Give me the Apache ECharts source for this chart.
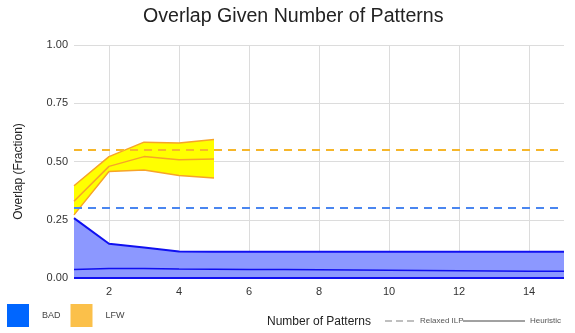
<!DOCTYPE html>
<html>
<head>
<meta charset="utf-8">
<script src="https://cdn.jsdelivr.net/npm/echarts@6/dist/echarts.min.js"></script>
<style>html,body{margin:0;padding:0;background:#fff}#c{width:575px;height:333px}</style>
</head>
<body>
<div id="c"></div>
<script>
var categories = ['1','2','3','4','5','6','7','8','9','10','11','12','13','14','15'];
var badUpper = [0.257,0.147,0.131,0.114,0.113,0.113,0.113,0.113,0.113,0.113,0.113,0.113,0.113,0.113,0.113];
var badLower = [0,0,0,0,0,0,0,0,0,0,0,0,0,0,0];
var badHeuristic = [0.036,0.041,0.041,0.039,0.038,0.037,0.036,0.035,0.034,0.033,0.032,0.031,0.030,0.029,0.029];
var lfwUpper = [0.396,0.521,0.583,0.579,0.594];
var lfwLower = [0.271,0.457,0.464,0.440,0.429];
var lfwHeuristic = [0.329,0.479,0.521,0.507,0.511];
var badRelaxedILP = 0.30;
var lfwRelaxedILP = 0.55;
var yTicks = [0, 0.25, 0.5, 0.75, 1.0];
var lineLegendNames = ['Relaxed ILP', 'Heuristic'];

var blueLine = '#1010f0', blueFill = '#8c98ff';
var orangeLine = '#f7a428', yellowFill = '#ffff00';
var lfwDiff = lfwUpper.map(function(v,i){ return +(v - lfwLower[i]).toFixed(4); });
var FONT = 'Liberation Sans, Arial, sans-serif';

var chart = echarts.init(document.getElementById('c'), null, {renderer:'canvas'});
chart.setOption({
  animation: false,
  title: {
    text: 'Overlap Given Number of Patterns',
    left: 138, top: 2,
    textStyle: {fontFamily: FONT, fontSize: 19.6, fontWeight: 'normal', color: '#222'}
  },
  grid: {left: 74, right: 11, top: 45, bottom: 53},
  legend: {
    data: [{name:'BAD', icon:'rect'}, {name:'LFW', icon:'rect'}],
    left: 7, top: 304, padding: 0, itemWidth: 22, itemHeight: 23, itemGap: 10,
    textStyle: {fontFamily: FONT, fontSize: 9, color:'#444', padding:[0,0,0,8]},
    selectedMode: false
  },
  graphic: [
    {type:'line', shape:{x1:385, y1:321, x2:415, y2:321}, style:{stroke:'#aaaaaa', lineWidth:1.5, lineDash:[7,4]}, silent:true},
    {type:'text', left:420, top:317, style:{text: lineLegendNames[0], font:'8px ' + FONT, fill:'#555'}, silent:true},
    {type:'line', shape:{x1:463, y1:321, x2:525, y2:321}, style:{stroke:'#444444', lineWidth:1}, silent:true},
    {type:'text', left:530, top:317, style:{text: lineLegendNames[1], font:'8px ' + FONT, fill:'#555'}, silent:true}
  ],
  xAxis: {
    type: 'category', data: categories, boundaryGap: false,
    name: 'Number of Patterns', nameLocation: 'middle', nameGap: 38,
    nameTextStyle: {fontFamily: FONT, fontSize: 12, color:'#222'},
    axisLine: {show: false}, axisTick: {show: false},
    axisLabel: {interval: function(i){ return i % 2 === 1; }, fontFamily: FONT, fontSize: 11, color:'#333', margin: 8},
    splitLine: {show: true, interval: function(i){ return i % 2 === 1; }, lineStyle: {color:'#dcdcdc', width:1}}
  },
  yAxis: {
    type: 'value', min: yTicks[0], max: yTicks[yTicks.length-1], interval: 0.25,
    name: 'Overlap (Fraction)', nameLocation: 'middle', nameGap: 49,
    nameTextStyle: {fontFamily: FONT, fontSize: 12, color:'#222', padding:[0,20,0,0]},
    axisLine: {show:false}, axisTick: {show:false},
    axisLabel: {formatter: function(v){ return v.toFixed(2); }, fontFamily: FONT, fontSize: 11, color:'#333', margin: 6},
    splitLine: {lineStyle: {color:'#dcdcdc', width:1}}
  },
  series: [
    {
      name: 'BAD', type: 'line', data: badUpper, symbol: 'none',
      lineStyle: {color: blueLine, width: 2}, itemStyle: {color: '#0066ff'},
      areaStyle: {color: blueFill, opacity: 1, origin: 'start'}, z: 2,
      markLine: {
        silent: true, symbol: 'none', label: {show:false},
        lineStyle: {color: '#4a86f0', type: [8,6], width: 2},
        data: [{yAxis: badRelaxedILP}]
      }
    },
    {
      name: 'BAD lower', type: 'line', data: badLower, symbol: 'none',
      lineStyle: {color: blueLine, width: 2}, z: 3
    },
    {
      name: 'BAD heuristic', type: 'line', data: badHeuristic, symbol: 'none',
      lineStyle: {color: blueLine, width: 1.5}, z: 3
    },
    {
      name: 'LFW lower', type: 'line', stack: 'lfw', data: lfwLower, symbol: 'none',
      lineStyle: {color: orangeLine, width: 1.5}, z: 4
    },
    {
      name: 'LFW', type: 'line', stack: 'lfw', data: lfwDiff, symbol: 'none',
      lineStyle: {color: orangeLine, width: 1.5}, itemStyle: {color: '#fbc04a'},
      areaStyle: {color: yellowFill, opacity: 1}, z: 3,
      markLine: {
        silent: true, symbol: 'none', label: {show:false},
        lineStyle: {color: '#f6b62a', type: [8,6], width: 2},
        data: [{yAxis: lfwRelaxedILP}]
      }
    },
    {
      name: 'LFW heuristic', type: 'line', data: lfwHeuristic, symbol: 'none',
      lineStyle: {color: orangeLine, width: 1.5}, z: 5
    }
  ]
});
</script>
</body>
</html>
